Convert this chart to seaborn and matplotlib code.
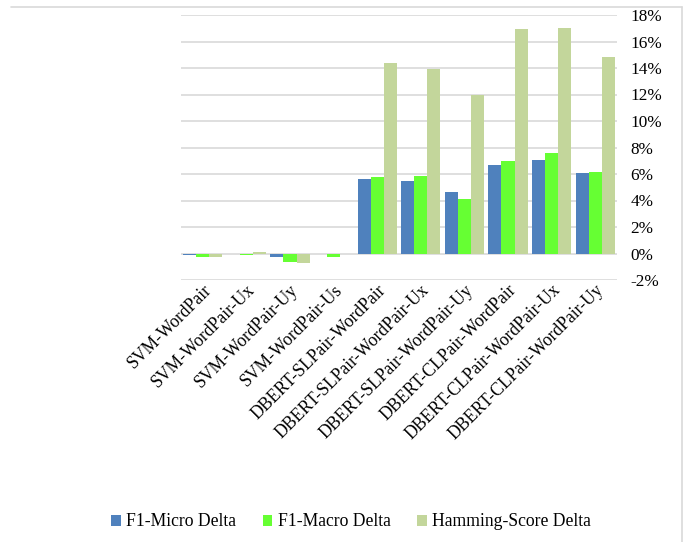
import matplotlib
matplotlib.use("Agg")
import matplotlib.pyplot as plt
import seaborn as sns
import pandas as pd
from matplotlib.lines import Line2D
from matplotlib.patches import Patch
from matplotlib.ticker import FuncFormatter, MultipleLocator

categories = [
    "SVM-WordPair", "SVM-WordPair-Ux", "SVM-WordPair-Uy", "SVM-WordPair-Us",
    "DBERT-SLPair-WordPair", "DBERT-SLPair-WordPair-Ux", "DBERT-SLPair-WordPair-Uy",
    "DBERT-CLPair-WordPair", "DBERT-CLPair-WordPair-Ux", "DBERT-CLPair-WordPair-Uy",
]
series = ["F1-Micro Delta", "F1-Macro Delta", "Hamming-Score Delta"]
f1_micro = [-0.1, -0.02, -0.3, -0.02, 5.6, 5.5, 4.65, 6.7, 7.05, 6.05]
f1_macro = [-0.3, -0.1, -0.65, -0.3, 5.8, 5.85, 4.15, 6.95, 7.6, 6.15]
hamming = [-0.25, 0.1, -0.75, 0.0, 14.4, 13.9, 11.95, 16.95, 17.0, 14.8]
colors = ["#4F81BD", "#66FF33", "#C3D69B"]

rows = []
for s, vals in zip(series, [f1_micro, f1_macro, hamming]):
    for c, v in zip(categories, vals):
        rows.append({"category": c, "series": s, "value": v})
df = pd.DataFrame(rows)

sns.set_theme(style="white")
plt.rcParams["font.family"] = ["Liberation Serif", "DejaVu Serif"]
plt.rcParams["text.color"] = "black"
plt.rcParams["xtick.color"] = "black"
plt.rcParams["ytick.color"] = "black"

fig = plt.figure(figsize=(6.86, 5.42), dpi=100)
ax = fig.add_axes([181 / 686, 1 - 280 / 542, (617 - 181) / 686, (280 - 15) / 542])

sns.barplot(data=df, x="category", y="value", hue="series", palette=colors,
            saturation=1, width=0.9, gap=0, linewidth=0, ax=ax, legend=False,
            order=categories, hue_order=series)

ax.set_ylim(-2, 18)
ax.set_xlim(-0.5, len(categories) - 0.5)
ax.yaxis.set_major_locator(MultipleLocator(2))
ax.yaxis.set_major_formatter(FuncFormatter(lambda v, p: f"{v:.0f}%"))
ax.yaxis.tick_right()
ax.grid(axis="y", color="#D9D9D9", linewidth=1.2)
ax.set_axisbelow(True)
for sp in ax.spines.values():
    sp.set_visible(False)
ax.set_xlabel("")
ax.set_ylabel("")
ax.tick_params(axis="y", length=0, pad=9.5, labelsize=12.4, labelcolor="black")
ax.tick_params(axis="x", length=0, pad=1, labelsize=12.7, labelcolor="black")
for lbl in ax.get_xticklabels():
    lbl.set_rotation(45)
    lbl.set_ha("right")
    lbl.set_rotation_mode("anchor")

handles = [Patch(facecolor=c, edgecolor="none") for c in colors]
fig.legend(handles, series, loc="center", bbox_to_anchor=(351 / 686, 1 - 522 / 542),
           ncol=3, frameon=False, fontsize=12.7, handlelength=0.55, handleheight=0.55,
           handletextpad=0.3, columnspacing=1.5, labelcolor="black")

fig.add_artist(Line2D([11 / 686, 682 / 686], [1 - 7 / 542, 1 - 7 / 542],
                      color="#D9D9D9", linewidth=1.2, transform=fig.transFigure))
fig.add_artist(Line2D([682 / 686, 682 / 686], [1 - 7 / 542, 0],
                      color="#D9D9D9", linewidth=1.2, transform=fig.transFigure))

fig.savefig("out.png", dpi=100, facecolor="white")
